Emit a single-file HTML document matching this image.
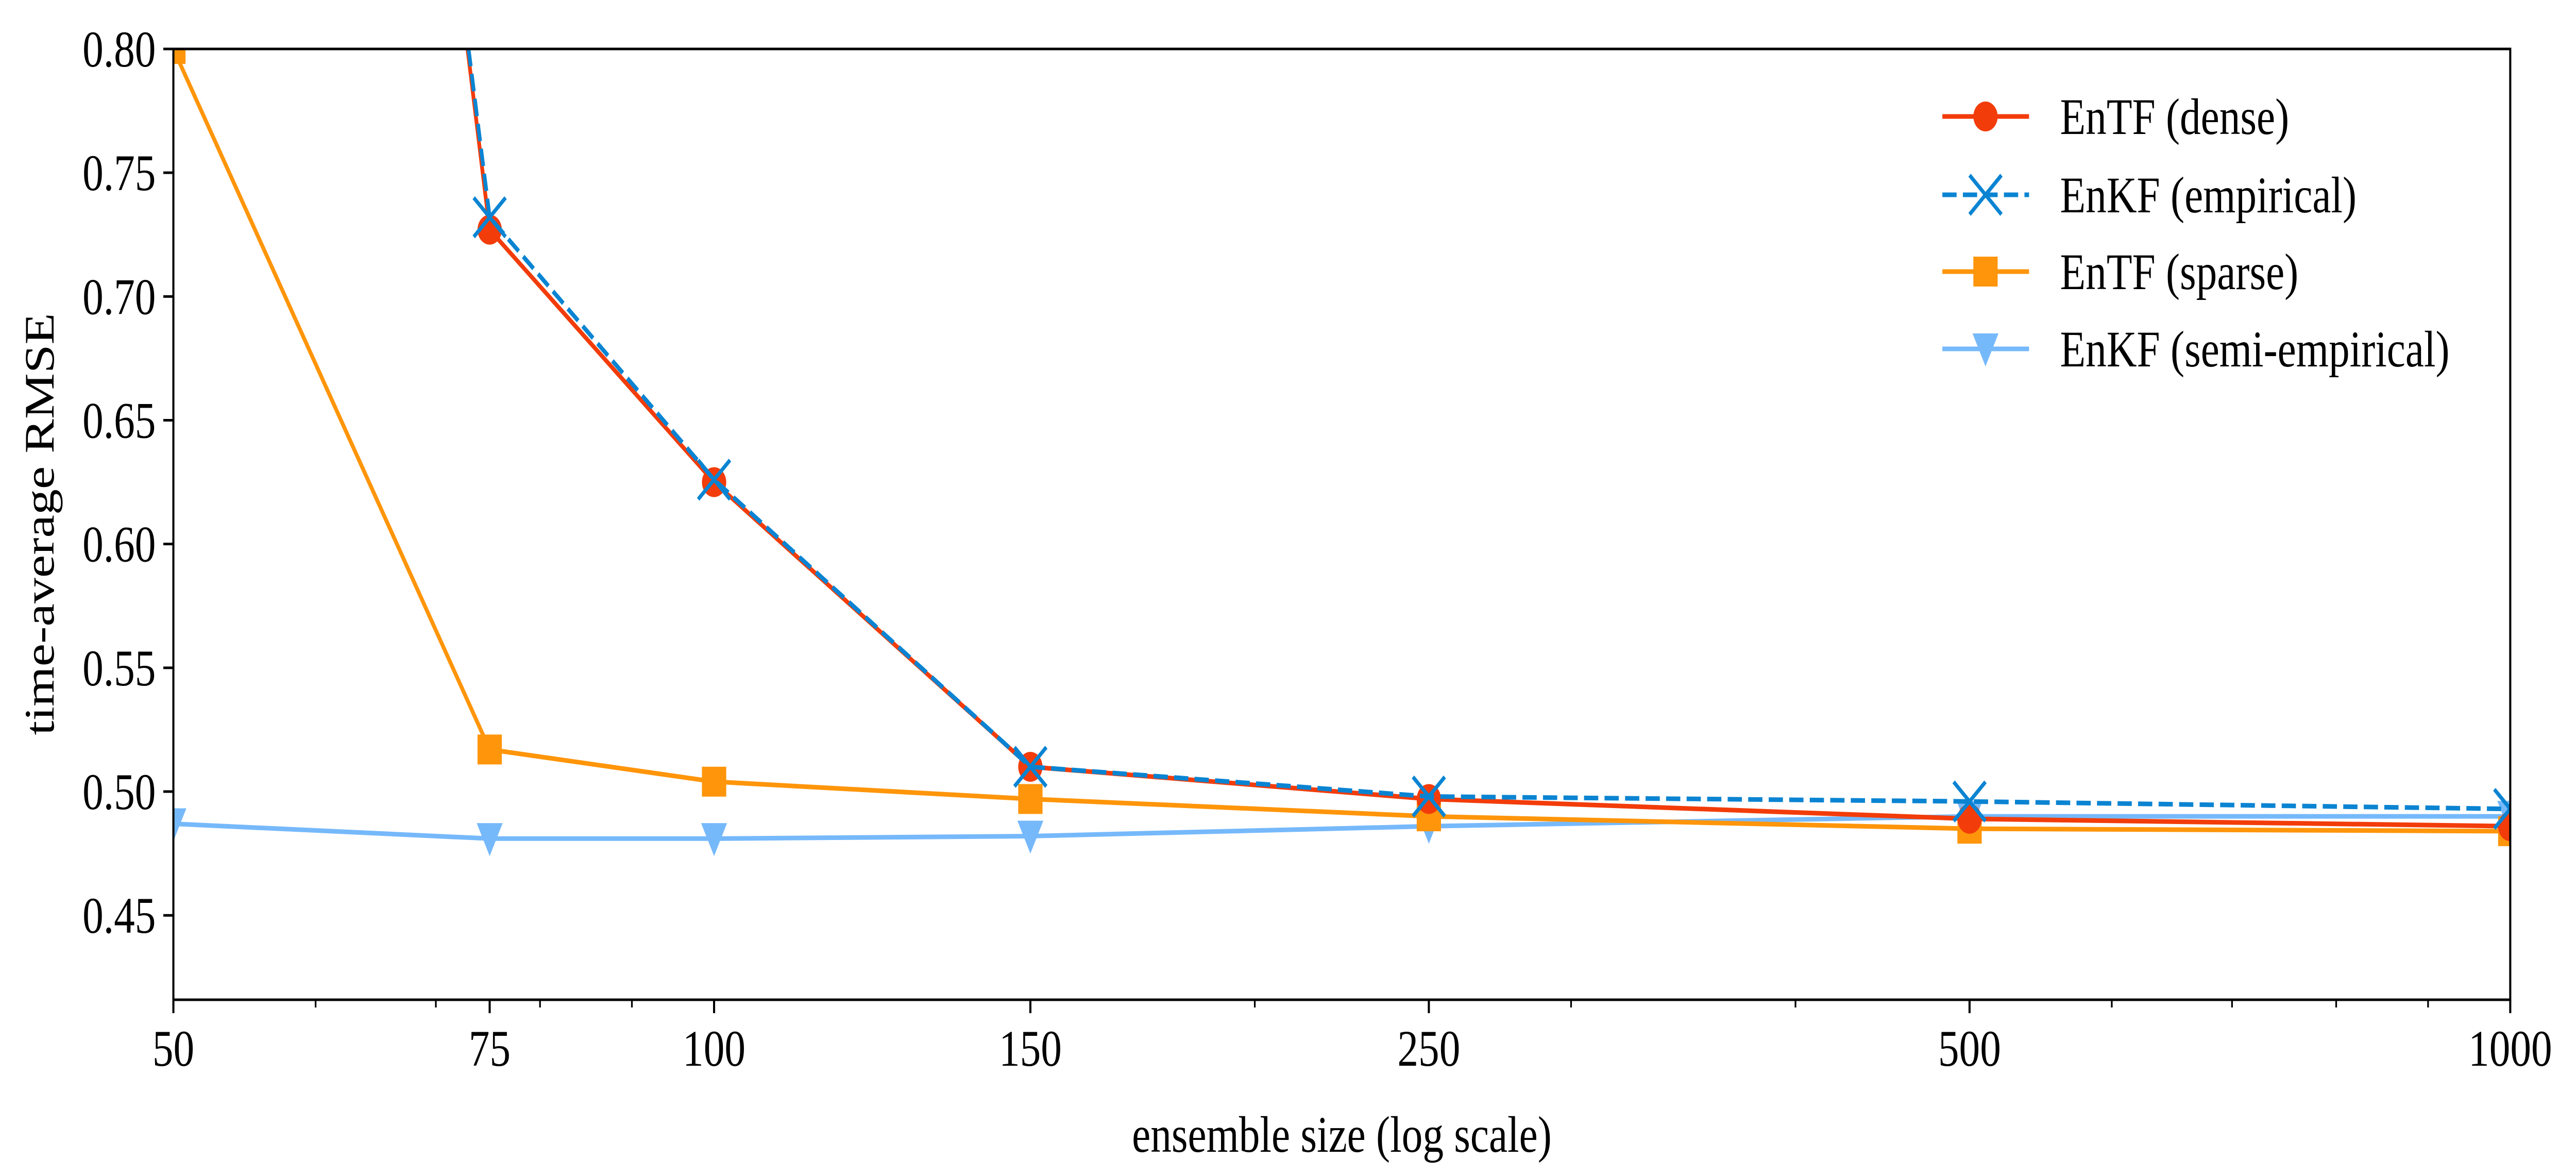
<!DOCTYPE html>
<html><head><meta charset="utf-8"><style>
html,body{margin:0;padding:0;background:#fff;width:100%;height:100%;overflow:hidden;}
svg{display:block;width:100vw;height:100vh;}
text{font-family:"Liberation Serif",serif;fill:#000;}
</style></head><body>
<svg id="chart" viewBox="0 0 6151 2282" preserveAspectRatio="none" xmlns="http://www.w3.org/2000/svg">
<rect x="0" y="0" width="6151" height="2282" fill="#fff"/>
<defs><clipPath id="plotclip"><rect x="414" y="95" width="5580" height="1845"/></clipPath></defs>
<g id="series" clip-path="url(#plotclip)"></g>
<g id="axes"></g>
<g id="legend"></g>
</svg>
<script>
const sizes = [50, 75, 100, 150, 250, 500, 1000];
const entfDense = [1.77, 0.727, 0.625, 0.510, 0.497, 0.489, 0.486];
const enkfEmpirical = [1.75, 0.732, 0.626, 0.510, 0.498, 0.496, 0.493];
const entfSparse = [0.80, 0.517, 0.504, 0.497, 0.490, 0.485, 0.484];
const enkfSemi = [0.487, 0.481, 0.481, 0.482, 0.486, 0.490, 0.490];
const yTicks = [0.45, 0.50, 0.55, 0.60, 0.65, 0.70, 0.75, 0.80];
const yTickLabels = ["0.45","0.50","0.55","0.60","0.65","0.70","0.75","0.80"];
const xTicks = [50, 75, 100, 150, 250, 500, 1000];
const xTickLabels = ["50","75","100","150","250","500","1000"];
const xMinor = [60, 70, 80, 90, 200, 300, 400, 600, 700, 800, 900];

const NS = "http://www.w3.org/2000/svg";
const L = 414, R = 5994, T = 95, B = 1940;
const xMin = 50, xMax = 1000, yMin = 0.4159, yMax = 0.80;
function xs(v){ return L + (Math.log(v) - Math.log(xMin)) / (Math.log(xMax) - Math.log(xMin)) * (R - L); }
function ys(v){ return B - (v - yMin) / (yMax - yMin) * (B - T); }
function mk(tag, attrs, parent){ const e = document.createElementNS(NS, tag); for (const k in attrs) e.setAttribute(k, attrs[k]); parent.appendChild(e); return e; }

const gS = document.getElementById('series');
const gA = document.getElementById('axes');
const gL = document.getElementById('legend');

function marker(type, cx, cy, color, parent){
  let m;
  if (type === 'circle') m = mk('circle', {cx:cx, cy:cy, r:29, fill:color}, parent);
  else if (type === 'square') m = mk('rect', {x:cx-29, y:cy-29, width:58, height:58, fill:color}, parent);
  else if (type === 'tri') m = mk('polygon', {points:`${cx-31},${cy-30} ${cx+31},${cy-30} ${cx},${cy+34}`, fill:color}, parent);
  else m = mk('path', {d:`M${cx-38},${cy-38}L${cx+38},${cy+38}M${cx-38},${cy+38}L${cx+38},${cy-38}`, stroke:color, 'stroke-width':8, fill:'none'}, parent);
  return m;
}

function clipTop(pts){
  const out = [];
  for (let i = 0; i < pts.length; i++){
    const p = pts[i];
    if (p[1] >= T) {
      if (i > 0 && pts[i-1][1] < T) {
        const q = pts[i-1];
        const t = (T - q[1]) / (p[1] - q[1]);
        out.push([q[0] + t*(p[0]-q[0]), T]);
      }
      out.push(p);
    } else if (i > 0 && pts[i-1][1] >= T) {
      const q = pts[i-1];
      const t = (T - q[1]) / (p[1] - q[1]);
      out.push([q[0] + t*(p[0]-q[0]), T]);
    }
  }
  return out;
}

const series = [
  {name:'entf-dense', vals:entfDense, color:'#f23c0a', dash:null, m:'circle', label:'EnTF (dense)'},
  {name:'enkf-empirical', vals:enkfEmpirical, color:'#0a84d2', dash:'34 15', m:'x', label:'EnKF (empirical)'},
  {name:'entf-sparse', vals:entfSparse, color:'#ff950a', dash:null, m:'square', label:'EnTF (sparse)'},
  {name:'enkf-semi-empirical', vals:enkfSemi, color:'#76b9fb', dash:null, m:'tri', label:'EnKF (semi-empirical)'}
];
const order = [3, 2, 0, 1];
order.forEach(si => {
  const s = series[si];
  const g = mk('g', {}, gS);
  
  
  const raw = sizes.map((x, i) => [xs(x), ys(s.vals[i])]);
  const pts = clipTop(raw).map(p => p[0].toFixed(1) + ',' + p[1].toFixed(1)).join(' ');
  const line = mk('polyline', {points:pts, fill:'none', stroke:s.color, 'stroke-width':9, 'stroke-linejoin':'round'}, g);
  if (s.dash) line.setAttribute('stroke-dasharray', s.dash);
  
  
  sizes.forEach((x, i) => {
    if (s.vals[i] > yMax + 0.001 || s.vals[i] < yMin) return;
    const m = marker(s.m, xs(x), ys(s.vals[i]), s.color, g);
    
    
  });
});

const frame = mk('rect', {x:L, y:T, width:R-L, height:B-T, fill:'none', stroke:'#000', 'stroke-width':5}, gA);



yTicks.forEach((v, i) => {
  const y = ys(v);
  const t = mk('line', {x1:L-24, x2:L, y1:y, y2:y, stroke:'#000', 'stroke-width':5}, gA);
  
  
  const tx = mk('text', {x:L-42, y:y+34, 'text-anchor':'end', 'font-size':100}, gA);
  tx.textContent = yTickLabels[i];
  
  
});
xTicks.forEach((v, i) => {
  const x = xs(v);
  const t = mk('line', {x1:x, x2:x, y1:B, y2:B+26, stroke:'#000', 'stroke-width':5}, gA);
  
  
  const tx = mk('text', {x:x, y:2068, 'text-anchor':'middle', 'font-size':100}, gA);
  tx.textContent = xTickLabels[i];
  
  
});
xMinor.forEach(v => {
  const x = xs(v);
  const t = mk('line', {x1:x, x2:x, y1:B, y2:B+15, stroke:'#000', 'stroke-width':4}, gA);
  
  
});
const xl = mk('text', {x:(L+R)/2, y:2235, 'text-anchor':'middle', 'font-size':100}, gA);
xl.textContent = 'ensemble size (log scale)';


const yl = mk('text', {x:0, y:0, 'text-anchor':'middle', 'font-size':100, transform:'translate(128,1017) rotate(-90)'}, gA);
yl.textContent = 'time-average RMSE';



const rowsY = [226, 378, 527, 677];
series.forEach((s, i) => {
  const g = mk('g', {}, gL);
  
  
  const ln = mk('line', {x1:4638, x2:4845, y1:rowsY[i], y2:rowsY[i], stroke:s.color, 'stroke-width':9}, g);
  if (s.dash) ln.setAttribute('stroke-dasharray', s.dash);
  marker(s.m, 4741, rowsY[i], s.color, g);
  const t = mk('text', {x:4919, y:rowsY[i]+34, 'font-size':100}, g);
  t.textContent = s.label;
});
</script>
</body></html>
